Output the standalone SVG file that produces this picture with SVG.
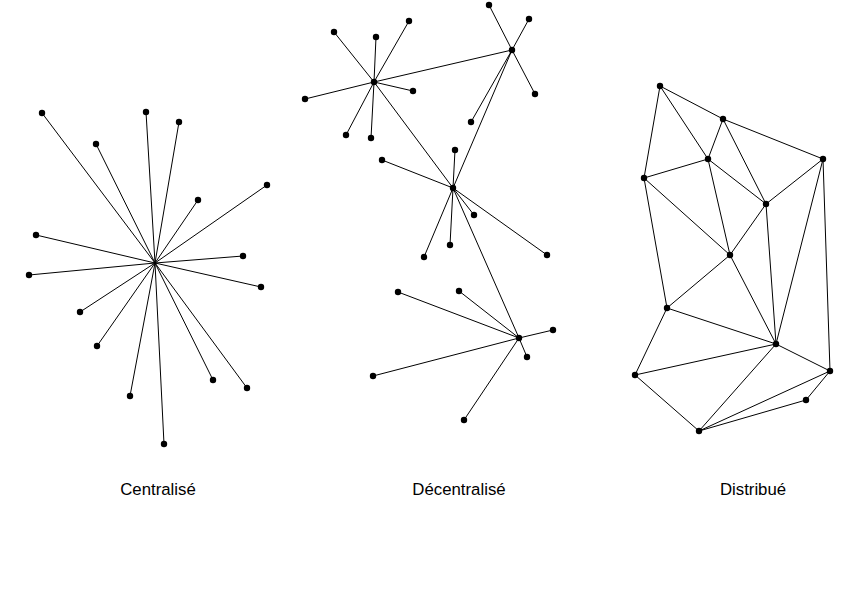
<svg xmlns="http://www.w3.org/2000/svg" width="842" height="595" viewBox="0 0 842 595">
<style>
.e line{stroke:#000;stroke-width:1;fill:none}
.n circle{fill:#000}
text{font-family:"Liberation Sans",Arial,sans-serif;font-size:16.8px;fill:#000;text-anchor:middle}
</style>
<rect width="842" height="595" fill="#fff"/>
<g id="connectors" class="e">
<!-- centralise -->
<line x1="155" y1="263" x2="42" y2="113"/>
<line x1="155" y1="263" x2="146" y2="112"/>
<line x1="155" y1="263" x2="179" y2="122"/>
<line x1="155" y1="263" x2="96" y2="144"/>
<line x1="155" y1="263" x2="267" y2="185"/>
<line x1="155" y1="263" x2="198" y2="200"/>
<line x1="155" y1="263" x2="36" y2="235"/>
<line x1="155" y1="263" x2="243" y2="256"/>
<line x1="155" y1="263" x2="29" y2="275"/>
<line x1="155" y1="263" x2="261" y2="287"/>
<line x1="155" y1="263" x2="80" y2="312"/>
<line x1="155" y1="263" x2="97" y2="346"/>
<line x1="155" y1="263" x2="213" y2="380"/>
<line x1="155" y1="263" x2="247" y2="388"/>
<line x1="155" y1="263" x2="130" y2="396"/>
<line x1="155" y1="263" x2="164" y2="444"/>
<!-- decentralise -->
<line x1="374" y1="82" x2="334" y2="32"/>
<line x1="374" y1="82" x2="376" y2="37"/>
<line x1="374" y1="82" x2="409" y2="21"/>
<line x1="374" y1="82" x2="305" y2="99"/>
<line x1="374" y1="82" x2="413" y2="91"/>
<line x1="374" y1="82" x2="346" y2="135"/>
<line x1="374" y1="82" x2="371" y2="138"/>
<line x1="374" y1="82" x2="512" y2="50"/>
<line x1="374" y1="82" x2="453" y2="188"/>
<line x1="512" y1="50" x2="489" y2="5"/>
<line x1="512" y1="50" x2="529" y2="19"/>
<line x1="512" y1="50" x2="535" y2="94"/>
<line x1="512" y1="50" x2="471" y2="122"/>
<line x1="512" y1="50" x2="453" y2="188"/>
<line x1="453" y1="188" x2="455" y2="150"/>
<line x1="453" y1="188" x2="382" y2="160"/>
<line x1="453" y1="188" x2="474" y2="215"/>
<line x1="453" y1="188" x2="424" y2="257"/>
<line x1="453" y1="188" x2="450" y2="245"/>
<line x1="453" y1="188" x2="547" y2="255"/>
<line x1="453" y1="188" x2="519" y2="338"/>
<line x1="519" y1="338" x2="398" y2="292"/>
<line x1="519" y1="338" x2="459" y2="291"/>
<line x1="519" y1="338" x2="553" y2="330"/>
<line x1="519" y1="338" x2="527" y2="357"/>
<line x1="519" y1="338" x2="373" y2="376"/>
<line x1="519" y1="338" x2="464" y2="420"/>
<!-- distribue -->
<line x1="660" y1="86" x2="723" y2="119"/>
<line x1="660" y1="86" x2="708" y2="159"/>
<line x1="660" y1="86" x2="644" y2="178"/>
<line x1="723" y1="119" x2="708" y2="159"/>
<line x1="723" y1="119" x2="766" y2="204"/>
<line x1="723" y1="119" x2="823" y2="159"/>
<line x1="708" y1="159" x2="644" y2="178"/>
<line x1="708" y1="159" x2="766" y2="204"/>
<line x1="708" y1="159" x2="730" y2="255"/>
<line x1="644" y1="178" x2="730" y2="255"/>
<line x1="644" y1="178" x2="667" y2="308"/>
<line x1="823" y1="159" x2="766" y2="204"/>
<line x1="823" y1="159" x2="776" y2="344"/>
<line x1="823" y1="159" x2="830" y2="371"/>
<line x1="766" y1="204" x2="730" y2="255"/>
<line x1="766" y1="204" x2="776" y2="344"/>
<line x1="730" y1="255" x2="667" y2="308"/>
<line x1="730" y1="255" x2="776" y2="344"/>
<line x1="667" y1="308" x2="776" y2="344"/>
<line x1="667" y1="308" x2="635" y2="375"/>
<line x1="776" y1="344" x2="635" y2="375"/>
<line x1="776" y1="344" x2="830" y2="371"/>
<line x1="776" y1="344" x2="699" y2="431"/>
<line x1="635" y1="375" x2="699" y2="431"/>
<line x1="830" y1="371" x2="699" y2="431"/>
<line x1="830" y1="371" x2="806" y2="400"/>
<line x1="806" y1="400" x2="699" y2="431"/>
</g>
<g id="centralise" class="n">
<circle cx="155" cy="263" r="1.5"/>
<circle cx="42" cy="113" r="3.2"/><circle cx="146" cy="112" r="3.2"/><circle cx="179" cy="122" r="3.2"/>
<circle cx="96" cy="144" r="3.2"/><circle cx="267" cy="185" r="3.2"/><circle cx="198" cy="200" r="3.2"/>
<circle cx="36" cy="235" r="3.2"/><circle cx="243" cy="256" r="3.2"/><circle cx="29" cy="275" r="3.2"/>
<circle cx="261" cy="287" r="3.2"/><circle cx="80" cy="312" r="3.2"/><circle cx="97" cy="346" r="3.2"/>
<circle cx="213" cy="380" r="3.2"/><circle cx="247" cy="388" r="3.2"/><circle cx="130" cy="396" r="3.2"/>
<circle cx="164" cy="444" r="3.2"/>
<text x="158" y="495">Centralisé</text>
</g>
<g id="decentralise" class="n">
<circle cx="374" cy="82" r="3.2"/><circle cx="512" cy="50" r="3.2"/><circle cx="453" cy="188" r="3.2"/><circle cx="519" cy="338" r="3.2"/>
<circle cx="334" cy="32" r="3.2"/><circle cx="376" cy="37" r="3.2"/><circle cx="409" cy="21" r="3.2"/>
<circle cx="305" cy="99" r="3.2"/><circle cx="413" cy="91" r="3.2"/><circle cx="346" cy="135" r="3.2"/>
<circle cx="371" cy="138" r="3.2"/>
<circle cx="489" cy="5" r="3.2"/><circle cx="529" cy="19" r="3.2"/><circle cx="535" cy="94" r="3.2"/><circle cx="471" cy="122" r="3.2"/>
<circle cx="455" cy="150" r="3.2"/><circle cx="382" cy="160" r="3.2"/><circle cx="474" cy="215" r="3.2"/>
<circle cx="424" cy="257" r="3.2"/><circle cx="450" cy="245" r="3.2"/><circle cx="547" cy="255" r="3.2"/>
<circle cx="398" cy="292" r="3.2"/><circle cx="459" cy="291" r="3.2"/><circle cx="553" cy="330" r="3.2"/>
<circle cx="527" cy="357" r="3.2"/><circle cx="373" cy="376" r="3.2"/><circle cx="464" cy="420" r="3.2"/>
<text x="459" y="495">Décentralisé</text>
</g>
<g id="distribue" class="n">
<circle cx="660" cy="86" r="3.2"/><circle cx="723" cy="119" r="3.2"/><circle cx="708" cy="159" r="3.2"/>
<circle cx="823" cy="159" r="3.2"/><circle cx="644" cy="178" r="3.2"/><circle cx="766" cy="204" r="3.2"/>
<circle cx="730" cy="255" r="3.2"/><circle cx="667" cy="308" r="3.2"/><circle cx="776" cy="344" r="3.2"/>
<circle cx="635" cy="375" r="3.2"/><circle cx="830" cy="371" r="3.2"/><circle cx="806" cy="400" r="3.2"/>
<circle cx="699" cy="431" r="3.2"/>
<text x="753" y="495">Distribué</text>
</g>
</svg>
